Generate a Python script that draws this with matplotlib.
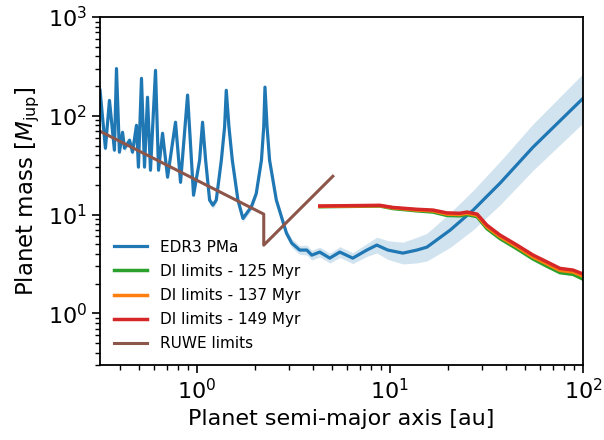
import numpy as np
import matplotlib
matplotlib.use("Agg")
import matplotlib.pyplot as plt

# EDR3 PMa sensitivity curve (semi-major axis [au], mass [Mjup])
pma_sma = [0.315, 0.336, 0.3525, 0.374, 0.3833, 0.397, 0.412, 0.4217, 0.448, 0.464,
           0.4866, 0.498, 0.5165, 0.5355, 0.555, 0.575, 0.6106, 0.633, 0.664, 0.705,
           0.775, 0.823, 0.895, 0.961, 1.033, 1.07, 1.11, 1.164, 1.21, 1.26,
           1.339, 1.392, 1.420, 1.466, 1.526, 1.632, 1.733, 1.915, 2.03, 2.16,
           2.22, 2.253, 2.31, 2.38, 2.58, 2.91, 3.10, 3.41, 3.71, 3.94,
           4.33, 4.88, 5.50, 6.42, 7.59, 8.55, 9.75, 11.67, 13.8, 15.55,
           20.5, 27.0, 37.2, 55.1, 100.0]
pma_mass = [181, 46.9, 143, 44.8, 300, 42.8, 68, 46.9, 56.5, 42.8,
            80, 30.2, 239, 30.2, 154, 28.1, 288, 28.1, 66.5, 23.9,
            86, 21.2, 162, 15.7, 35.5, 86, 35.5, 14.0, 12.45, 14.0,
            35.5, 77.1, 181, 77.1, 35.5, 14.0, 9.13, 11.97, 16.3, 35.5,
            77.1, 195, 77.1, 35.5, 14.0, 6.49, 5.14, 4.37, 4.37, 3.88,
            4.17, 3.62, 4.17, 3.62, 4.37, 4.91, 4.37, 4.07, 4.37, 4.68,
            6.95, 11.1, 20.8, 48.1, 150]
# half width of the shaded band, in dex
pma_band = [0.035] * 45 + [0.04, 0.045, 0.045, 0.05, 0.05,
                           0.05, 0.05, 0.055, 0.055, 0.065, 0.08, 0.095, 0.11, 0.13, 0.14,
                           0.175, 0.20, 0.22, 0.235, 0.25]

# direct imaging limits
di_sma = [4.33, 8.87, 10.35, 13.8, 16.7, 19.7, 23.0, 25.1, 28.3, 31.8,
          37.2, 45.5, 55.1, 65.0, 76.0, 88.9, 100.0]
di_125 = [12.0, 12.2, 11.5, 10.9, 10.6, 9.8, 9.7, 10.0, 9.5, 7.2,
          5.7, 4.5, 3.55, 3.0, 2.58, 2.48, 2.22]
di_137 = [12.1, 12.3, 11.7, 11.1, 10.9, 10.1, 10.0, 10.3, 9.8, 7.5,
          5.95, 4.72, 3.72, 3.17, 2.72, 2.62, 2.38]
di_149 = [12.2, 12.4, 11.8, 11.3, 11.1, 10.4, 10.3, 10.6, 10.1, 7.8,
          6.19, 4.91, 3.89, 3.32, 2.85, 2.74, 2.50]

# RUWE limits
ruwe_sma = [0.315, 2.22, 2.22, 5.06]
ruwe_mass = [69.7, 10.1, 4.9, 24.4]

fig = plt.figure(figsize=(6.04, 4.4), dpi=100)
ax = fig.add_axes([0.1656, 0.1705, 0.7996, 0.7909])

m = np.array(pma_mass)
w = np.array(pma_band)
ax.fill_between(pma_sma, m / 10**w, m * 10**w, color='tab:blue', alpha=0.2, lw=0)
ax.plot(pma_sma, pma_mass, color='tab:blue', lw=2.3, label='EDR3 PMa')
ax.plot(di_sma, di_125, color='tab:green', lw=2.5, label='DI limits - 125 Myr')
ax.plot(di_sma, di_137, color='tab:orange', lw=2.5, label='DI limits - 137 Myr')
ax.plot(di_sma, di_149, color='tab:red', lw=2.5, label='DI limits - 149 Myr')
ax.plot(ruwe_sma, ruwe_mass, color='tab:brown', lw=2.2, label='RUWE limits')

ax.set_xscale('log')
ax.set_yscale('log')
ax.set_xlim(0.315, 100)
ax.set_ylim(0.3, 1000)

ax.set_xlabel('Planet semi-major axis [au]', fontsize=16)
ax.set_ylabel(r'Planet mass [$M_{\rm jup}$]', fontsize=16.5)
ax.tick_params(which='major', labelsize=16, length=6, width=1.2)
ax.tick_params(which='minor', length=3.5, width=1)
for s in ax.spines.values():
    s.set_linewidth(1.3)

ax.legend(loc='lower left', frameon=False, fontsize=11, handlelength=2.2,
          labelspacing=0.6)

fig.savefig('out.png', dpi=100)
